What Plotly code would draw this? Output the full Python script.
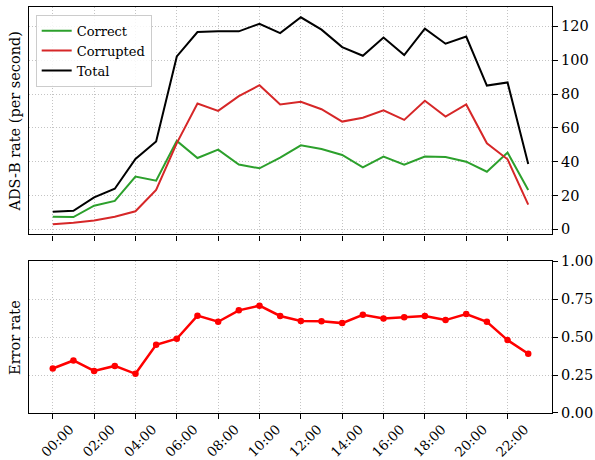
import plotly.graph_objects as go

hours = [0, 1, 2, 3, 4, 5, 6, 7, 8, 9, 10, 11, 12, 13, 14, 15, 16, 17, 18, 19, 20, 21, 22, 23]

correct = [7.5, 7.3, 14.0, 16.8, 31.2, 28.8, 52.3, 42.2, 47.1, 38.3, 36.1, 42.4,
           49.7, 47.5, 44.0, 36.7, 43.0, 38.3, 43.0, 42.8, 40.0, 34.1, 45.4, 23.3]
corrupted = [3.0, 3.9, 5.3, 7.5, 10.7, 23.3, 51.0, 74.4, 70.0, 78.7, 85.2, 73.8,
             75.4, 71.0, 63.7, 66.0, 70.4, 64.7, 76.0, 66.7, 73.8, 50.9, 41.4, 14.6]
total = [10.4, 11.0, 18.9, 24.0, 41.6, 51.9, 102.2, 116.6, 117.0, 117.0, 121.5, 116.0,
         125.3, 118.0, 107.7, 102.6, 113.4, 103.0, 118.6, 109.7, 113.9, 85.0, 86.8, 38.7]
error_rate = [0.293, 0.346, 0.277, 0.310, 0.258, 0.449, 0.489, 0.641, 0.601, 0.676, 0.707, 0.639,
              0.606, 0.604, 0.592, 0.647, 0.623, 0.630, 0.639, 0.612, 0.652, 0.601, 0.480, 0.390]

tick_hours = [0, 2, 4, 6, 8, 10, 12, 14, 16, 18, 20, 22]
tick_labels = ["00:00", "02:00", "04:00", "06:00", "08:00", "10:00",
               "12:00", "14:00", "16:00", "18:00", "20:00", "22:00"]

FONT = "DejaVu Serif"

fig = go.Figure()

fig.add_trace(go.Scatter(x=hours, y=correct, mode="lines", name="Correct",
                         line=dict(color="#2ca02c", width=2), xaxis="x", yaxis="y"))
fig.add_trace(go.Scatter(x=hours, y=corrupted, mode="lines", name="Corrupted",
                         line=dict(color="#d62728", width=2), xaxis="x", yaxis="y"))
fig.add_trace(go.Scatter(x=hours, y=total, mode="lines", name="Total",
                         line=dict(color="black", width=2), xaxis="x", yaxis="y"))
fig.add_trace(go.Scatter(x=hours, y=error_rate, mode="lines+markers", name="Error rate",
                         line=dict(color="red", width=2.5), marker=dict(size=6.5, color="red"),
                         showlegend=False, xaxis="x2", yaxis="y2"))

axis_common = dict(
    showline=True, linecolor="black", linewidth=1.2, mirror=True,
    ticks="outside", ticklen=5, tickcolor="black", tickwidth=1.2,
    showgrid=True, gridcolor="#c4c4c4", griddash="1px,2px", gridwidth=1,
    zeroline=False, automargin=False,
    tickfont=dict(family=FONT, size=14.5, color="black"),
)

fig.update_layout(
    width=595, height=460,
    margin=dict(l=29, r=42.5, t=7, b=47),
    paper_bgcolor="white", plot_bgcolor="white",
    font=dict(family=FONT, size=14.5, color="black"),
    xaxis=dict(axis_common, domain=[0, 1], range=[-1.15, 24.15], tickvals=tick_hours,
               ticktext=tick_labels, showticklabels=False, anchor="y"),
    yaxis=dict(axis_common, domain=[0.4397, 1], range=[-3.0, 131.4], side="right",
               tickvals=[0, 20, 40, 60, 80, 100, 120], anchor="x"),
    xaxis2=dict(axis_common, domain=[0, 1], range=[-1.15, 24.15], tickvals=tick_hours,
                ticktext=tick_labels, tickangle=-45, anchor="y2",
                ticklabelshift=17, ticklabelstandoff=-3,
                tickfont=dict(family=FONT, size=13.5, color="black")),
    yaxis2=dict(axis_common, domain=[0, 0.374], range=[0, 1], side="right",
                tickvals=[0, 0.25, 0.5, 0.75, 1.0],
                ticktext=["0.00", "0.25", "0.50", "0.75", "1.00"], anchor="x2"),
    legend=dict(x=0.0128, y=0.981, xanchor="left", yanchor="top",
                bgcolor="rgba(255,255,255,0.85)", bordercolor="#cccccc", borderwidth=1,
                font=dict(family=FONT, size=13), tracegroupgap=0, itemwidth=30),
    annotations=[
        dict(text="ADS-B rate (per second)", x=-0.027, y=0.72, xref="paper", yref="paper",
             textangle=-90, showarrow=False, xanchor="center", yanchor="middle",
             font=dict(family=FONT, size=14.5)),
        dict(text="Error rate", x=-0.027, y=0.187, xref="paper", yref="paper",
             textangle=-90, showarrow=False, xanchor="center", yanchor="middle",
             font=dict(family=FONT, size=14.5)),
    ],
)

# the page body has a default 8px margin; drop it so the figure fills the window
fig.write_html("out.html", config={"displayModeBar": False},
               post_script="document.body.style.margin = '0';")
